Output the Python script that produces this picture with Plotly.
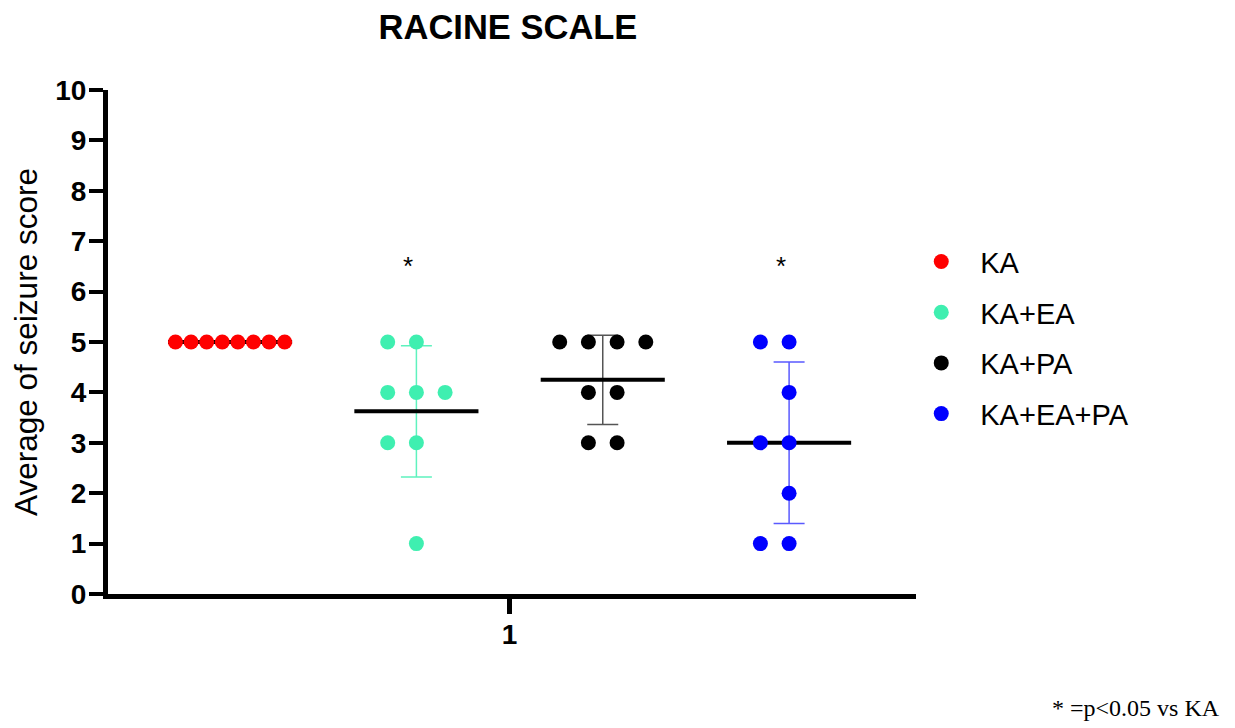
import numpy as np
import plotly.graph_objects as go

# ---------------- data ----------------
groups = ["KA", "KA+EA", "KA+PA", "KA+EA+PA"]
ka = [5, 5, 5, 5, 5, 5, 5, 5]
ka_ea = [5, 5, 4, 4, 4, 3, 3, 1]
ka_pa = [5, 5, 5, 5, 4, 4, 3, 3]
ka_ea_pa = [5, 5, 4, 3, 3, 2, 1, 1]
significance = ["", "*", "", "*"]
x_tick_labels = ["1"]
y_tick_values = list(range(0, 11))

# ---------------- style ----------------
dot_colors = ["#FF0000", "#3FEFB0", "#000000", "#0000FF"]
bar_colors = ["#FF0000", "#5FF2BE", "#555555", "#5A5AFF"]
FONT = "Arial, Liberation Sans, sans-serif"
DOT_STEP = 0.154      # horizontal spacing of dots in a row (x units)
MEAN_HALF = 0.333     # half width of the mean line (x units)
MAX_HALF = 0.293      # max half width of a row of dots


def swarm_offsets(vals, step=DOT_STEP, max_half=MAX_HALF):
    vals = np.asarray(vals)
    uniq, counts = np.unique(vals, return_counts=True)
    integer_grid = np.any(counts % 2 == 1)
    slots = np.zeros(len(vals))
    for u, c in zip(uniq, counts):
        idx = np.where(vals == u)[0]
        if integer_grid:
            order = [0]
            k = 1
            while len(order) < c:
                order += [-k, k]
                k += 1
            s = sorted(order[:c])
        else:
            s = np.arange(c) - (c - 1) / 2
        slots[idx] = s
    m = np.max(np.abs(slots))
    st = step if m * step <= max_half else max_half / m
    return slots * st


series = [ka, ka_ea, ka_pa, ka_ea_pa]
fig = go.Figure()

centers = np.arange(1, len(groups) + 1)

# error bars (SD)
for i, vals in enumerate(series):
    v = np.asarray(vals, dtype=float)
    mean = v.mean()
    sd = v.std(ddof=1)
    fig.add_trace(go.Scatter(
        x=[centers[i]], y=[mean], mode="markers",
        marker=dict(size=1, opacity=0),
        error_y=dict(type="data", array=[sd], visible=True,
                     color=bar_colors[i], thickness=1.5, width=15.5),
        showlegend=False, hoverinfo="skip"))

# mean lines
for i, vals in enumerate(series):
    mean = float(np.mean(vals))
    fig.add_trace(go.Scatter(
        x=[centers[i] - MEAN_HALF, centers[i] + MEAN_HALF], y=[mean, mean],
        mode="lines", line=dict(color="black", width=4),
        showlegend=False, hoverinfo="skip"))

# dots
for i, vals in enumerate(series):
    offs = swarm_offsets(vals)
    fig.add_trace(go.Scatter(
        x=centers[i] + offs, y=vals, mode="markers", name=groups[i],
        marker=dict(color=dot_colors[i], size=15, line=dict(width=0)),
        legendgroup=groups[i]))

# significance marks
for i, s in enumerate(significance):
    if s:
        fig.add_annotation(x=centers[i], y=6.5, text=s, showarrow=False,
                           xshift=-8, font=dict(family=FONT, size=26, color="black"))

fig.add_annotation(xref="paper", yref="paper", x=1.379, y=-0.226,
                   xanchor="right", yanchor="middle", showarrow=False,
                   text="* =p<0.05 vs KA",
                   font=dict(family="Times New Roman, Liberation Serif, serif", size=24, color="black"))

fig.update_layout(
    width=1235, height=728,
    margin=dict(l=100, r=327, t=82, b=142),
    paper_bgcolor="white", plot_bgcolor="white",
    title=dict(text="<b>RACINE SCALE</b>", xref="container", yref="container",
               x=500 / 1235, y=1 - 19 / 728, xanchor="center", yanchor="middle",
               font=dict(family=FONT, size=34.5, color="black")),
    xaxis=dict(range=[0.345, 4.681], showgrid=False, zeroline=False,
               showline=True, linecolor="black", linewidth=5,
               tickmode="array", tickvals=[np.mean(centers)], ticktext=x_tick_labels,
               ticks="outside", ticklen=15, tickwidth=5, tickcolor="black",
               ticklabelstandoff=-4,
               tickfont=dict(family=FONT, size=28, color="black", weight="bold")),
    yaxis=dict(range=[0, 10], showgrid=False, zeroline=False,
               showline=True, linecolor="black", linewidth=5,
               tickmode="array", tickvals=y_tick_values,
               ticks="outside", ticklen=14, tickwidth=4, tickcolor="black",
               ticklabelstandoff=-3,
               tickfont=dict(family=FONT, size=28, color="black", weight="bold"),
               title=dict(text="Average of seizure score", standoff=12,
                          font=dict(family=FONT, size=31.5, color="black"))),
    legend=dict(x=0.983, y=0.71, xanchor="left", yanchor="top",
                font=dict(family=FONT, size=29, color="black"),
                itemwidth=68, tracegroupgap=10, bgcolor="rgba(0,0,0,0)"),
)

fig.write_html("out.html")
